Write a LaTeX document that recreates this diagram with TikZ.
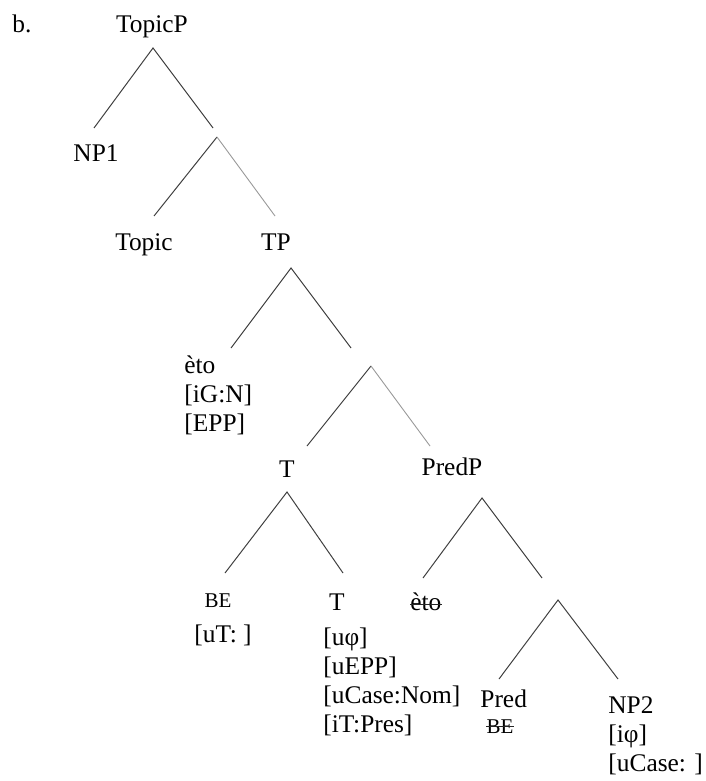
\documentclass[tikz,border=0pt]{standalone}
\usepackage{fontspec}
\setmainfont{Liberation Serif}
\usepackage{tikz}

\tikzset{
  lbl/.style={inner sep=0pt, font=\fontsize{12.7}{14.5}\selectfont},
  feat/.style={lbl, align=left, anchor=base west},
  small/.style={inner sep=0pt, font=\fontsize{10.5}{11}\selectfont},
  br/.style={draw=black!75, line width=0.5pt},
  brl/.style={draw=black!40, line width=0.45pt},
  strike/.style={draw=black!85, line width=0.45pt}
}

\begin{document}
\begin{tikzpicture}[x=0.5pt,y=-0.5pt]
  \useasboundingbox (0,0) rectangle (706,781);

  % labels (multi-line ones sit on their last baseline)
  \node[lbl,anchor=base west] (ex) at (12,33) {b.};
  \node[lbl,anchor=base] (topicp) at (152,33) {TopicP};
  \node[lbl,anchor=base] (np1) at (96,162) {NP1};
  \node[lbl,anchor=base] (topic) at (144,250) {Topic};
  \node[lbl,anchor=base] (tp) at (276,250) {TP};
  \node[feat] (eto) at (184,431) {èto\\{}[iG:N]\\{}[EPP]};
  \node[lbl,anchor=base] (t1) at (287,477) {T};
  \node[lbl,anchor=base] (predp) at (452,475) {PredP};
  \node[small,anchor=base] (be) at (218,607) {BE};
  \node[feat] (ut) at (194,642) {[uT: ]};
  \node[lbl,anchor=base] (t2) at (337,610) {T};
  \node[feat] (tfeat) at (323,732) {[uφ]\\{}[uEPP]\\{}[uCase:Nom]\\{}[iT:Pres]};
  \node[lbl,anchor=base west] (etostruck) at (410,610) {èto};
  \node[lbl,anchor=base west] (pred) at (480,707) {Pred};
  \node[small,anchor=base] (bestruck) at (500,733) {BE};
  \node[feat] (np2) at (608,771) {NP2\\{}[iφ]\\{}[uCase: ]};

  % strike-through (copies)
  \draw[strike] ([yshift=2.8pt]etostruck.base west) -- ([yshift=2.8pt]etostruck.base east);
  \draw[strike] ([yshift=3.3pt]bestruck.base west) -- ([yshift=3.3pt]bestruck.base east);

  % branch points
  \coordinate (topicp-a) at (153,48);
  \coordinate (np1-t) at (94,128);
  \coordinate (bar1-t) at (213,128);
  \coordinate (bar1-a) at (217,137);
  \coordinate (topic-t) at (154,216);
  \coordinate (tp-t) at (275,216);
  \coordinate (tp-a) at (291,268);
  \coordinate (eto-t) at (231,348);
  \coordinate (bar2-t) at (351,348);
  \coordinate (bar2-a) at (371,366);
  \coordinate (t1-t) at (307,446);
  \coordinate (predp-t) at (430,446);
  \coordinate (t1-a) at (287,492);
  \coordinate (be-t) at (225,573);
  \coordinate (t2-t) at (343,573);
  \coordinate (predp-a) at (482,498);
  \coordinate (etostruck-t) at (423,578);
  \coordinate (bar3-t) at (542,578);
  \coordinate (bar3-a) at (558,600);
  \coordinate (pred-t) at (499,679);
  \coordinate (np2-t) at (618,679);

  % branches
  \draw[br] (np1-t) -- (topicp-a) -- (bar1-t);
  \draw[br] (bar1-a) -- (topic-t);
  \draw[brl] (bar1-a) -- (tp-t);
  \draw[br] (eto-t) -- (tp-a) -- (bar2-t);
  \draw[br] (bar2-a) -- (t1-t);
  \draw[brl] (bar2-a) -- (predp-t);
  \draw[br] (be-t) -- (t1-a) -- (t2-t);
  \draw[br] (etostruck-t) -- (predp-a) -- (bar3-t);
  \draw[br] (pred-t) -- (bar3-a) -- (np2-t);
\end{tikzpicture}
\end{document}
